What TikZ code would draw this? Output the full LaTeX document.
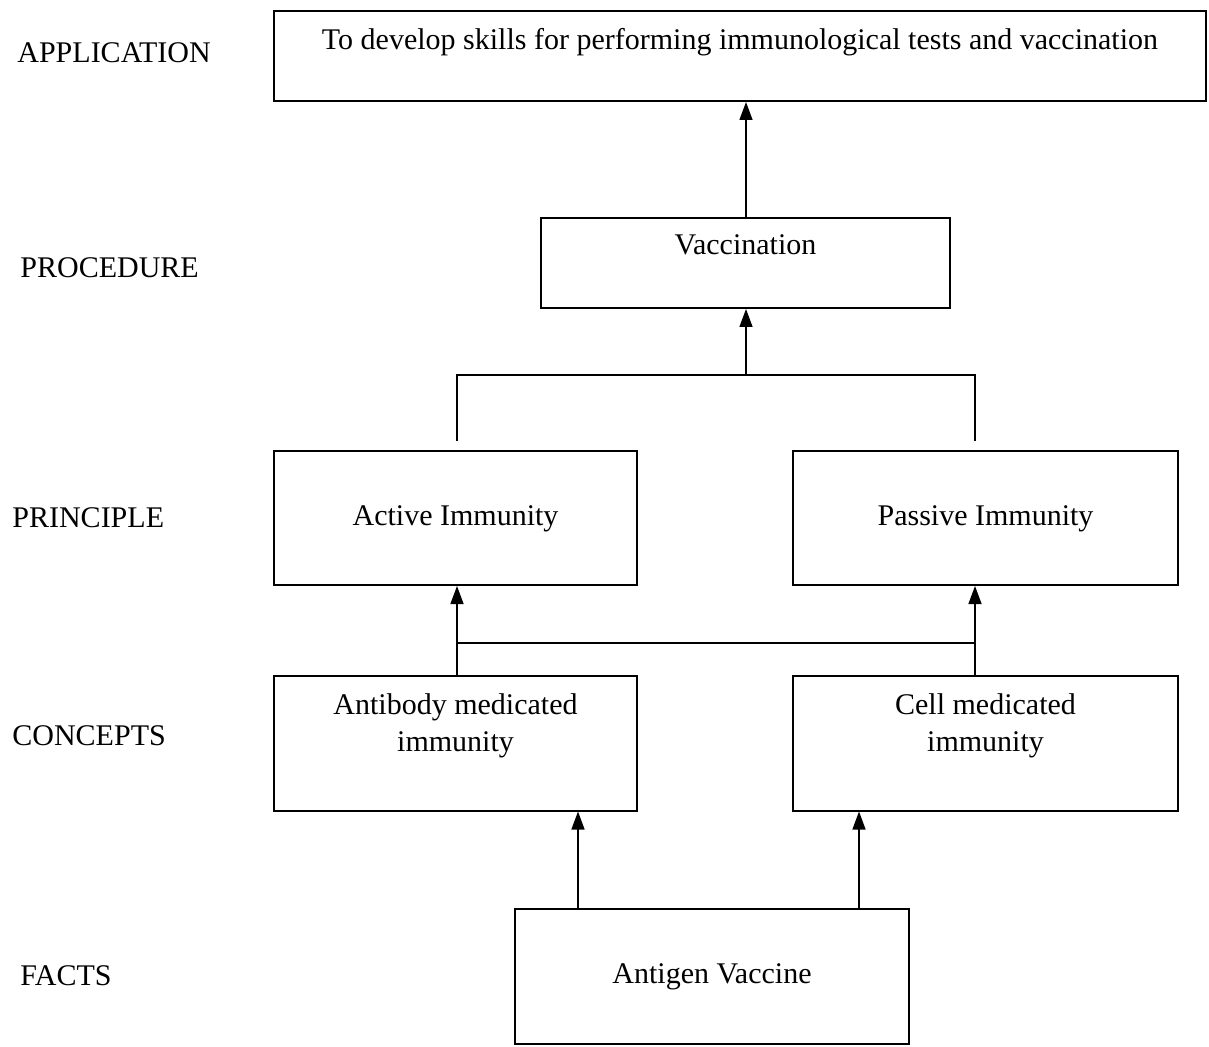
\documentclass[tikz,border=0pt]{standalone}
\usepackage{fontspec}
\setmainfont{Liberation Serif}
\usetikzlibrary{arrows.meta}
\usetikzlibrary{positioning}
\tikzset{
    mybox/.style = {rectangle, draw=black, line width=1pt, inner sep=0pt, align=center, font=\fontsize{15}{18.5}\selectfont, text height=10.5pt, text depth=3.5pt},
    mylevel/.style = {anchor=base west, inner sep=0pt, font=\fontsize{15}{18.5}\selectfont},
    edgen/.style = {-{Triangle[width=6.5pt,length=9pt]}, line width=0.7pt},
    edgel/.style = {line width=0.7pt},
}

\begin{document}
\begin{tikzpicture}[x=0.5pt, y=-0.5pt]
  \useasboundingbox (0,0) rectangle (1209,1047);

  % levels
  \node[mylevel] (lapp)  at (17,63)  {APPLICATION};
  \node[mylevel] (lproc) at (20,278) {PROCEDURE};
  \node[mylevel] (lprin) at (12,527) {PRINCIPLE};
  \node[mylevel] (lconc) at (12,745) {CONCEPTS};
  \node[mylevel] (lfact) at (20,985) {FACTS};

  % boxes
  \node[mybox, minimum width=466pt, minimum height=45pt, text depth=16.5pt] (app) at (740,56)
    {To develop skills for performing immunological tests and vaccination};
  \node[mybox, minimum width=204.5pt, minimum height=45pt, text depth=18.5pt] (vac) at (745.5,263) {Vaccination};
  \node[mybox, minimum width=181.5pt, minimum height=67pt] (act) at (455.5,518) {Active Immunity};
  \node[mybox, minimum width=192.5pt, minimum height=67pt] (pas) at (985.5,518) {Passive Immunity};
  \node[mybox, minimum width=181.5pt, minimum height=67.5pt, text depth=2pt] (ab) at (455.5,743)
    {Antibody medicated\\immunity};
  \node[mybox, minimum width=192.5pt, minimum height=67.5pt, text depth=2pt] (cell) at (985.5,743)
    {Cell medicated\\immunity};
  \node[mybox, minimum width=197pt, minimum height=67.5pt] (ag) at (712,976.5) {Antigen Vaccine};

  \coordinate (jl) at (457,375);
  \coordinate (jm) at (746,375);
  \coordinate (jr) at (975,375);
  \coordinate (kl) at (457,643);
  \coordinate (kr) at (975,643);
  \coordinate (al) at (578,909);
  \coordinate (ar) at (859,909);

  % connectors
  \draw[edgen] (vac.north -| jm) -- (app.south -| jm);
  \draw[edgen] (jm) -- (vac.south -| jm);
  \draw[edgel] ([yshift=4.5pt]act.north -| jl) -- (jl) -- (jr) -- ([yshift=4.5pt]pas.north -| jr);
  \draw[edgen] (ab.north -| kl) -- (act.south -| kl);
  \draw[edgen] (cell.north -| kr) -- (pas.south -| kr);
  \draw[edgel] (kl) -- (kr);
  \draw[edgen] (al) -- (ab.south -| al);
  \draw[edgen] (ar) -- (cell.south -| ar);

\end{tikzpicture}
\end{document}
